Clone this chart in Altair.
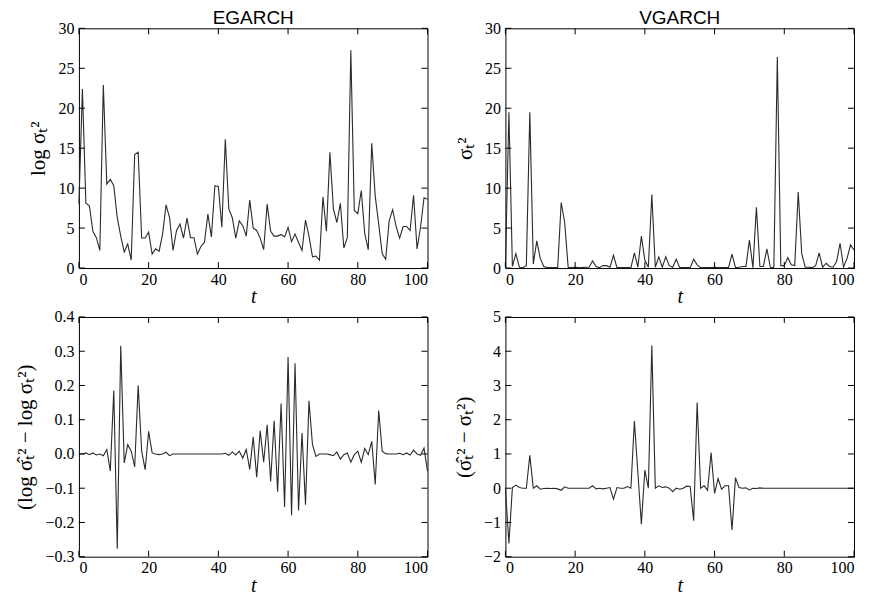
import altair as alt
import pandas as pd

t = list(range(101))

egarch_logvar = [
    8.0, 22.4, 8.1, 7.8, 4.6, 3.8, 2.2, 22.9, 10.5, 11.1,
    10.3, 6.3, 4.0, 2.0, 3.0, 1.0, 14.2, 14.5, 3.75, 3.75,
    4.5, 1.75, 2.4, 2.1, 4.25, 7.9, 6.3, 2.2, 4.7, 5.5,
    3.75, 6.25, 3.8, 3.8, 1.75, 2.7, 3.2, 6.75, 3.9, 10.3,
    10.2, 5.1, 16.1, 7.4, 6.3, 3.75, 5.9, 5.3, 4.0, 8.5,
    5.0, 4.7, 3.75, 2.3, 8.0, 4.6, 4.0, 4.0, 4.2, 3.9,
    5.1, 3.3, 4.25, 3.2, 2.2, 6.0, 4.0, 1.4, 1.5, 1.0,
    8.9, 4.6, 14.5, 7.4, 5.7, 8.1, 2.5, 3.8, 27.25, 7.2,
    6.8, 9.7, 4.3, 2.3, 15.6, 9.0, 5.5, 1.8, 1.1, 5.9,
    7.3, 5.2, 3.75, 5.2, 5.2, 4.7, 9.1, 2.4, 5.1, 8.8,
    8.6]

vgarch_var = [
    0.3, 19.5, 0.2, 1.8, 0.1, 0.05, 0.3, 19.5, 0.5, 3.4,
    1.2, 0.2, 0.05, 0.05, 0.05, 0.05, 8.2, 5.7, 0.1, 0.05,
    0.1, 0.05, 0.05, 0.1, 0.1, 0.9, 0.2, 0.05, 0.3, 0.3,
    0.1, 1.6, 0.05, 0.05, 0.05, 0.05, 0.05, 1.9, 0.1, 4.0,
    1.0, 0.1, 9.2, 0.1, 1.4, 0.1, 1.4, 0.3, 0.1, 1.1,
    0.05, 0.05, 0.05, 0.05, 1.1, 0.4, 0.05, 0.05, 0.05, 0.05,
    0.1, 0.05, 0.05, 0.05, 0.05, 1.75, 0.05, 0.1, 0.2, 0.2,
    3.5, 0.05, 7.6, 0.2, 0.2, 2.4, 0.1, 0.05, 26.4, 0.3,
    0.3, 1.3, 0.4, 0.3, 9.5, 1.8, 0.1, 0.1, 0.05, 0.3,
    1.9, 0.1, 0.6, 0.2, 0.1, 0.8, 3.1, 0.1, 1.2, 2.9,
    2.25]

egarch_err = [
    0.0, 0.0, 0.003, -0.002, 0.003, -0.003, 0.0, -0.005, 0.013, -0.05,
    0.185, -0.277, 0.316, -0.026, 0.027, 0.008, -0.038, 0.2, 0.008, -0.046,
    0.066, 0.003, 0.0, -0.002, 0.0, 0.005, -0.005, 0.0, 0.0, 0.0,
    0.0, 0.0, 0.0, 0.0, 0.0, 0.0, 0.0, 0.0, 0.0, 0.0,
    0.0, 0.0, 0.002, -0.004, 0.006, -0.003, 0.008, -0.012, 0.013, -0.045,
    0.05, -0.068, 0.068, -0.024, 0.085, -0.08, 0.097, -0.11, 0.147, -0.155,
    0.283, -0.179, 0.265, -0.165, 0.061, -0.148, 0.155, 0.027, -0.007, 0.0,
    0.0, 0.0, -0.002, -0.005, 0.006, -0.015, -0.002, 0.003, -0.024, -0.002,
    0.008, -0.024, 0.016, -0.002, 0.037, -0.089, 0.127, 0.008, 0.001, 0.0,
    0.0, 0.0, 0.002, -0.002, 0.003, -0.003, 0.011, 0.0, -0.004, 0.017,
    -0.05]

vgarch_err = [
    0.0, -1.61, 0.02, 0.09, 0.02, 0.0, 0.0, 0.96, 0.0, 0.07,
    -0.03, -0.01, 0.0, -0.01, 0.0, -0.02, -0.06, 0.04, 0.0, 0.0,
    0.0, 0.0, 0.0, 0.0, 0.0, 0.07, -0.02, 0.0, -0.02, 0.0,
    0.02, -0.32, 0.02, 0.0, 0.0, 0.05, 0.0, 1.96, 0.45, -1.05,
    0.53, 0.0, 4.17, 0.0, 0.07, 0.02, 0.04, 0.0, -0.1, 0.0,
    -0.03, 0.0, 0.06, 0.05, -0.95, 2.5, 0.0, 0.07, -0.06, 1.04,
    -0.15, 0.28, -0.03, 0.07, 0.07, -1.22, 0.31, 0.02, 0.0, 0.01,
    -0.05, 0.0, -0.01, 0.01, 0.0, 0.0, 0.0, 0.0, 0.0, 0.0,
    0.0, 0.0, 0.0, 0.0, 0.0, 0.0, 0.0, 0.0, 0.0, 0.0,
    0.0, 0.0, 0.0, 0.0, 0.0, 0.0, 0.0, 0.0, 0.0, 0.0,
    0.0]

x_ticks = [0, 20, 40, 60, 80, 100]
top_y_ticks = [0, 5, 10, 15, 20, 25, 30]
bl_y_ticks = [-0.3, -0.2, -0.1, 0.0, 0.1, 0.2, 0.3, 0.4]
br_y_ticks = [-2, -1, 0, 1, 2, 3, 4, 5]

W, H = 349, 240
TICK = 6
SERIF = "Liberation Serif"


def panel(values, ydomain, yticks, ytitle, yfmt, title=None):
    df = pd.DataFrame({"t": t, "v": values})
    xenc = alt.X(
        "t:Q",
        scale=alt.Scale(domain=[0, 100], nice=False, zero=False),
        axis=alt.Axis(values=x_ticks, title="t", format="d", ticks=False,
                      domain=False, grid=False, labelPadding=3, titlePadding=0,
                      labelFont=SERIF, labelFontSize=16, labelColor="black",
                      titleFont=SERIF, titleFontSize=20, titleFontStyle="italic",
                      titleFontWeight="normal", titleColor="black"),
    )
    yenc = alt.Y(
        "v:Q",
        scale=alt.Scale(domain=ydomain, nice=False, zero=False),
        axis=alt.Axis(values=yticks, title=ytitle, format=yfmt, ticks=False,
                      domain=False, grid=False, labelPadding=5, titlePadding=9,
                      labelFont=SERIF, labelFontSize=16, labelColor="black",
                      titleFont=SERIF, titleFontSize=21,
                      titleFontWeight="normal", titleColor="black"),
    )
    line = alt.Chart(df).mark_line(color="#2b2b2b", strokeWidth=1.1).encode(x=xenc, y=yenc)
    xt = pd.DataFrame({"t": x_ticks})
    yt = pd.DataFrame({"v": yticks})
    xb = alt.Chart(xt).mark_rule(color="black", strokeWidth=1).encode(
        x=xenc, y=alt.value(H), y2=alt.value(H - TICK))
    xtop = alt.Chart(xt).mark_rule(color="black", strokeWidth=1).encode(
        x=xenc, y=alt.value(0), y2=alt.value(TICK))
    yl = alt.Chart(yt).mark_rule(color="black", strokeWidth=1).encode(
        y=yenc, x=alt.value(0), x2=alt.value(TICK))
    yr = alt.Chart(yt).mark_rule(color="black", strokeWidth=1).encode(
        y=yenc, x=alt.value(W), x2=alt.value(W - TICK))
    ch = alt.layer(line, xb, xtop, yl, yr).properties(width=W, height=H)
    if title:
        ch = ch.properties(title=alt.TitleParams(
            title, font="Liberation Sans", fontSize=19, fontWeight="normal",
            color="black", offset=-8, anchor="middle"))
    return ch


p1 = panel(egarch_logvar, [0, 30], top_y_ticks, "log σₜ²", "d", "EGARCH")
p2 = panel(vgarch_var, [0, 30], top_y_ticks, "σₜ²", "d", "VGARCH")
p3 = panel(egarch_err, [-0.3, 0.4], bl_y_ticks, "(log σ̂ₜ²  −  log σₜ²)", ".1f")
p4 = panel(vgarch_err, [-2, 5], br_y_ticks, "(σ̂ₜ²  −  σₜ²)", "d")

chart = alt.concat(p1, p2, p3, p4, columns=2, spacing={"row": 0, "column": 22}).properties(
    padding={"left": 6, "top": 0, "right": 5, "bottom": 0}
).configure_view(
    stroke="black", strokeWidth=1
)

chart.save("out.html", embed_options={"renderer": "svg", "actions": False})
